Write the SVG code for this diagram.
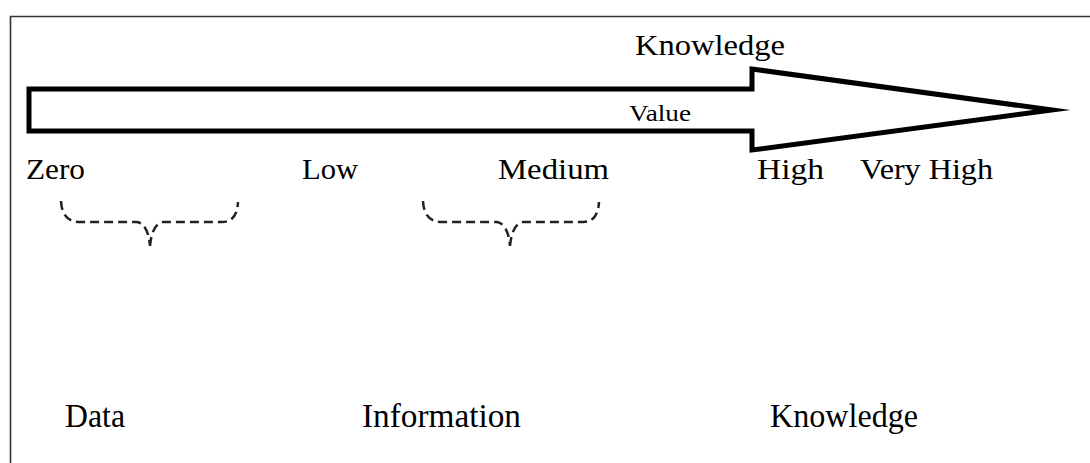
<svg xmlns="http://www.w3.org/2000/svg" width="1090" height="463" viewBox="0 0 1090 463">
<style>
text{font-family:"Liberation Serif","Times New Roman",serif;fill:#000}
.t{font-size:30px}
.v{font-size:23px}
.b{font-size:34px}
.brace{fill:none;stroke:#222;stroke-width:2.5;stroke-dasharray:9 5}
</style>
<rect width="1090" height="463" fill="#fff"/>
<path d="M10.5,470 L10.5,16.5 L1095,16.5" fill="none" stroke="#333" stroke-width="1.6"/>
<g id="arrow">
<path d="M29,89 L752,89 L752,69 L1052,110 L752,150 L752,131 L29,131 Z" fill="#fff" stroke="#000" stroke-width="5" stroke-miterlimit="10"/>
<text class="v" x="629" y="121" textLength="62" lengthAdjust="spacingAndGlyphs">Value</text>
</g>
<g id="labels">
<text class="t" x="635" y="55" textLength="150" lengthAdjust="spacingAndGlyphs">Knowledge</text>
<text class="t" x="26" y="179" textLength="59" lengthAdjust="spacingAndGlyphs">Zero</text>
<text class="t" x="302" y="179" textLength="56" lengthAdjust="spacingAndGlyphs">Low</text>
<text class="t" x="498" y="179" textLength="111" lengthAdjust="spacingAndGlyphs">Medium</text>
<text class="t" x="757" y="179" textLength="67" lengthAdjust="spacingAndGlyphs">High</text>
<text class="t" x="860" y="179" textLength="133" lengthAdjust="spacingAndGlyphs">Very High</text>
</g>
<g id="connectors">
<path class="brace" d="M61,201 Q62,222 80,222 L137,222 Q148,224 150,246 M150,246 Q152,224 163,222 L222,222 Q237,222 238,202"/>
<path class="brace" d="M423,201 Q424,222 442,222 L497,222 Q508,224 510,246 M510,246 Q512,224 523,222 L583,222 Q598,222 599,202"/>
</g>
<g id="categories">
<text class="b" x="65" y="427" textLength="60" lengthAdjust="spacingAndGlyphs">Data</text>
<text class="b" x="362" y="427" textLength="159" lengthAdjust="spacingAndGlyphs">Information</text>
<text class="b" x="770" y="427" textLength="148" lengthAdjust="spacingAndGlyphs">Knowledge</text>
</g>
</svg>
